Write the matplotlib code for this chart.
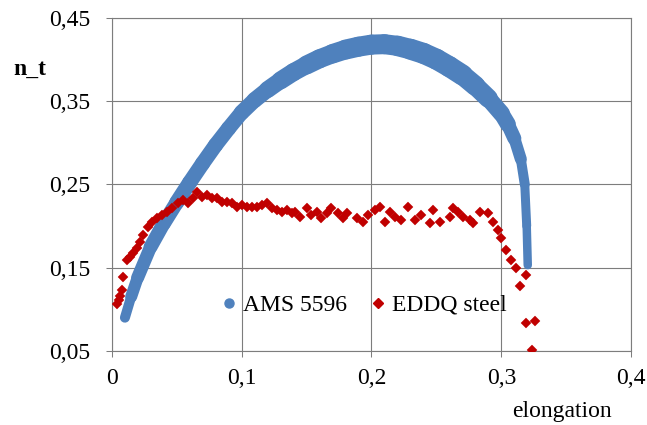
import matplotlib
matplotlib.use("Agg")
import matplotlib.pyplot as plt
from matplotlib.collections import LineCollection
from matplotlib.lines import Line2D
import numpy as np

plt.rcParams['font.family'] = ['Liberation Serif', 'DejaVu Serif']

# ---- data ----
ams_x = [0.0102, 0.015, 0.020, 0.030, 0.040, 0.050, 0.060, 0.070, 0.080, 0.090,
         0.100, 0.110, 0.120, 0.130, 0.140, 0.150, 0.160, 0.170, 0.180, 0.190,
         0.200, 0.210, 0.220, 0.230, 0.240, 0.250, 0.260, 0.270, 0.280, 0.290,
         0.300, 0.305, 0.310, 0.315, 0.318, 0.3195, 0.3203]
ams_y = [0.090, 0.115, 0.138, 0.175, 0.203, 0.228, 0.252, 0.275, 0.297, 0.317,
         0.336, 0.351, 0.3635, 0.3745, 0.3845, 0.393, 0.4005, 0.4065, 0.4115, 0.415,
         0.4175, 0.418, 0.416, 0.412, 0.407, 0.400, 0.391, 0.381, 0.368, 0.353,
         0.335, 0.322, 0.305, 0.280, 0.250, 0.200, 0.153]

eddq_x = [0.0038, 0.0055, 0.0064, 0.0077, 0.0089, 0.0115, 0.0141, 0.0166, 0.0192, 0.0218,
          0.0243, 0.0282, 0.0308, 0.0346, 0.0385, 0.0423, 0.0462, 0.0512, 0.0551, 0.0590,
          0.0628, 0.0659, 0.0692, 0.0731, 0.0769, 0.0808, 0.0846, 0.0885, 0.0923, 0.0962,
          0.1000, 0.1038, 0.1077, 0.1115, 0.1154, 0.1192, 0.1231, 0.1269, 0.1308, 0.1346,
          0.1385, 0.1410, 0.1448, 0.1500, 0.1538, 0.1577, 0.1615, 0.1654, 0.1692, 0.1743,
          0.1782, 0.1808, 0.1885, 0.1935, 0.1974, 0.2025, 0.2064, 0.2102, 0.2141, 0.2179,
          0.2231, 0.2282, 0.2333, 0.2385, 0.2448, 0.2474, 0.2525, 0.2602, 0.2628, 0.2666,
          0.2705, 0.2756, 0.2782, 0.2833, 0.2897, 0.2935, 0.2974, 0.3000, 0.3038, 0.3077,
          0.3115, 0.3141, 0.3192, 0.3192, 0.3256, 0.3235]
eddq_y = [0.106, 0.111, 0.116, 0.123, 0.139, 0.159, 0.163, 0.167, 0.173, 0.181,
          0.189, 0.199, 0.205, 0.209, 0.213, 0.217, 0.221, 0.227, 0.231, 0.227,
          0.233, 0.241, 0.235, 0.237, 0.233, 0.233, 0.229, 0.229, 0.227, 0.223,
          0.225, 0.223, 0.223, 0.223, 0.225, 0.227, 0.221, 0.219, 0.217, 0.219,
          0.215, 0.217, 0.211, 0.221, 0.213, 0.217, 0.209, 0.215, 0.221, 0.215,
          0.209, 0.215, 0.209, 0.205, 0.213, 0.219, 0.223, 0.205, 0.217, 0.211,
          0.207, 0.223, 0.207, 0.213, 0.203, 0.219, 0.205, 0.211, 0.221, 0.217,
          0.211, 0.207, 0.203, 0.217, 0.215, 0.205, 0.195, 0.185, 0.171, 0.159,
          0.149, 0.128, 0.141, 0.083, 0.086, 0.051]

series_names = ["AMS 5596", "EDDQ steel"]
x_ticks = [0, 0.1, 0.2, 0.3, 0.4]
x_tick_labels = ["0", "0,1", "0,2", "0,3", "0,4"]
y_ticks = [0.05, 0.15, 0.25, 0.35, 0.45]
y_tick_labels = ["0,05", "0,15", "0,25", "0,35", "0,45"]

BLUE = "#4F81BD"
RED = "#C00000"
GRID = "#7d7d7d"
FS = 17

fig = plt.figure(figsize=(6.47, 4.25), dpi=100)
ax = fig.add_axes([0.1726, 0.1741, 0.8031, 0.7847])
ax.set_xlim(0, 0.4)
ax.set_ylim(0.05, 0.45)

# band of densely packed AMS 5596 points (thickness in px per segment)
band_px = [10, 12, 13, 14, 14.5, 15, 15, 15, 15, 15,
           15.5, 16, 17, 18, 18, 19, 19, 19.5, 20, 20,
           20, 20, 20.5, 21, 21, 21, 21, 20, 19, 17,
           16, 14, 12, 10, 9, 8.5]
pts = np.column_stack([ams_x, ams_y])
segs = np.stack([pts[:-1], pts[1:]], axis=1)
lc = LineCollection(segs, colors=BLUE, linewidths=[w * 0.72 for w in band_px],
                    capstyle='round', joinstyle='round', zorder=3)
ax.add_collection(lc)

ax.plot(eddq_x, eddq_y, ls='none', marker='D', ms=5.4, mfc=RED, mec=RED,
        mew=0.3, zorder=4)

ax.set_xticks(x_ticks)
ax.set_xticklabels(x_tick_labels)
ax.set_yticks(y_ticks)
ax.set_yticklabels(y_tick_labels)
ax.tick_params(axis='both', direction='out', length=4.3, width=0.75, color=GRID,
               labelsize=FS)
ax.tick_params(axis='y', pad=11)
ax.tick_params(axis='x', pad=8)
ax.grid(True, color=GRID, lw=0.8, zorder=0)
ax.set_axisbelow(True)
for s in ax.spines.values():
    s.set_color(GRID)
    s.set_linewidth(0.8)

fig.text(30 / 647, 1 - 75 / 425, "n_t", fontsize=FS, fontweight='bold',
         ha='center', va='baseline')
fig.text(562 / 647, 1 - 411 / 425, "elongation", fontsize=FS,
         ha='center', va='center')

handles = [Line2D([], [], ls='none', marker='o', ms=6.5, mfc=BLUE, mec=BLUE),
           Line2D([], [], ls='none', marker='D', ms=5, mfc=RED, mec=RED)]
fig.legend(handles, series_names, loc='center', bbox_to_anchor=(364 / 647, 1 - 305 / 425),
           ncol=2, frameon=False, fontsize=FS, handlelength=0.6, handletextpad=0.3,
           columnspacing=1.0, borderpad=0, borderaxespad=0)

fig.savefig("out.png", dpi=100)
